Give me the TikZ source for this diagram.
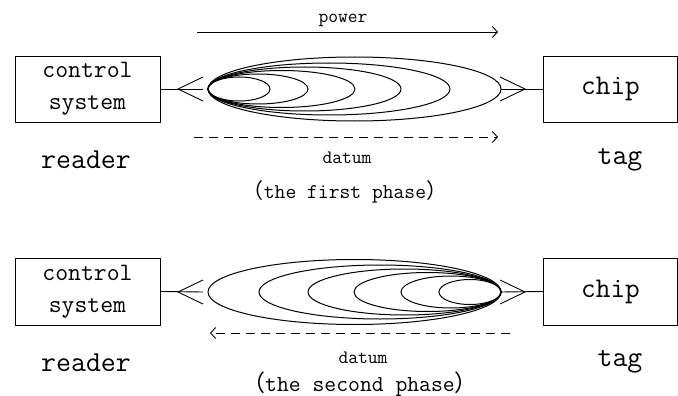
\documentclass[tikz,border=0pt]{standalone}
\usepackage{fontspec}
\newfontfamily\cjk{Noto Sans CJK SC}
\usetikzlibrary{arrows.meta}
\begin{document}
\begin{tikzpicture}[x=1pt,y=-1pt,
  box/.style={draw,line width=0.9pt,inner sep=0pt,align=center,font=\ttfamily\fontsize{25}{32}\selectfont},
  bigbox/.style={draw,line width=0.9pt,inner sep=0pt,align=center,font=\ttfamily\fontsize{28.5}{32}\selectfont},
  biglabel/.style={inner sep=0pt,font=\ttfamily\fontsize{29}{32}\selectfont},
  smalllabel/.style={inner sep=0pt,font=\ttfamily\fontsize{19}{22}\selectfont},
  phaselabel/.style={inner sep=0pt,font=\ttfamily\fontsize{21}{24}\selectfont},
  wire/.style={line width=0.9pt},
  wave/.style={line width=1pt},
  flow/.style={line width=0.9pt,-{Straight Barb[length=5pt,width=11pt]}},
  dflow/.style={flow,dash pattern=on 9pt off 6pt}]
\useasboundingbox (0,0) rectangle (678,396);

% ---------------- first phase ----------------
\node[box,minimum width=145pt,minimum height=66pt] (cs1) at (87.5,89) {control\\system};
\node[bigbox,minimum width=134pt,minimum height=66pt] (chip1) at (610.5,89) {chip};
\node[biglabel] (rd1) at (86,160) {reader};
\node[biglabel] (tg1) at (620,160) {tag};

\coordinate (la1) at (203,89);
\coordinate (lt1) at (178,89);
\coordinate (lu1) at (203,77);
\coordinate (ld1) at (203,101);
\draw[wire] (cs1.east) -- (la1);
\draw[wire] (lu1) -- (lt1) -- (ld1);

\coordinate (ra1) at (501,89);
\coordinate (rt1) at (525,89);
\coordinate (ru1) at (500,77);
\coordinate (rd1c) at (500,101);
\draw[wire] (ra1) -- (chip1.west);
\draw[wire] (ru1) -- (rt1) -- (rd1c);

\foreach \r/\b in {270/12,308/15,355/18.5,401/22,450/26,501/32}{
  \draw[wave] ({(208+\r)/2},89) ellipse [x radius={(\r-208)/2*1pt}, y radius=\b pt];
}

\coordinate (pw1s) at (197,32);
\coordinate (pw1e) at (498,32);
\draw[flow] (pw1s) -- (pw1e);
\node[smalllabel] (pw) at (343,20) {power};

\coordinate (dt1s) at (194,137);
\coordinate (dt1e) at (498,137);
\draw[dflow] (dt1s) -- (dt1e);
\node[smalllabel] (dl1) at (347,158) {datum};
\node[phaselabel] (ph1) at (345,192) {{\cjk （}the first phase{\cjk ）}};

% ---------------- second phase ----------------
\node[box,minimum width=145pt,minimum height=67pt] (cs2) at (87.5,291.5) {control\\system};
\node[bigbox,minimum width=134pt,minimum height=67pt] (chip2) at (610.5,291.5) {chip};
\node[biglabel] (rd2) at (86,363) {reader};
\node[biglabel] (tg2) at (620,362) {tag};

\coordinate (la2) at (203,292);
\coordinate (lt2) at (178,292);
\coordinate (lu2) at (203,280);
\coordinate (ld2) at (203,304);
\draw[wire] (cs2.east) -- (la2);
\draw[wire] (lu2) -- (lt2) -- (ld2);

\coordinate (ra2) at (501,292);
\coordinate (rt2) at (525,292);
\coordinate (ru2) at (500,280);
\coordinate (rd2c) at (500,304);
\draw[wire] (ra2) -- (chip2.west);
\draw[wire] (ru2) -- (rt2) -- (rd2c);

\foreach \l/\b in {439/12.5,401/16,354/19.5,308/23,259/27,208/32.5}{
  \draw[wave] ({(501+\l)/2},292) ellipse [x radius={(501-\l)/2*1pt}, y radius=\b pt];
}

\coordinate (dt2s) at (510,333);
\coordinate (dt2e) at (210,333);
\draw[dflow] (dt2s) -- (dt2e);
\node[smalllabel] (dl2) at (363,358) {datum};
\node[phaselabel,font=\ttfamily\fontsize{23}{26}\selectfont] (ph2) at (360,384) {{\cjk\fontsize{23}{26}\selectfont （}the second phase{\cjk\fontsize{23}{26}\selectfont ）}};
\end{tikzpicture}
\end{document}
